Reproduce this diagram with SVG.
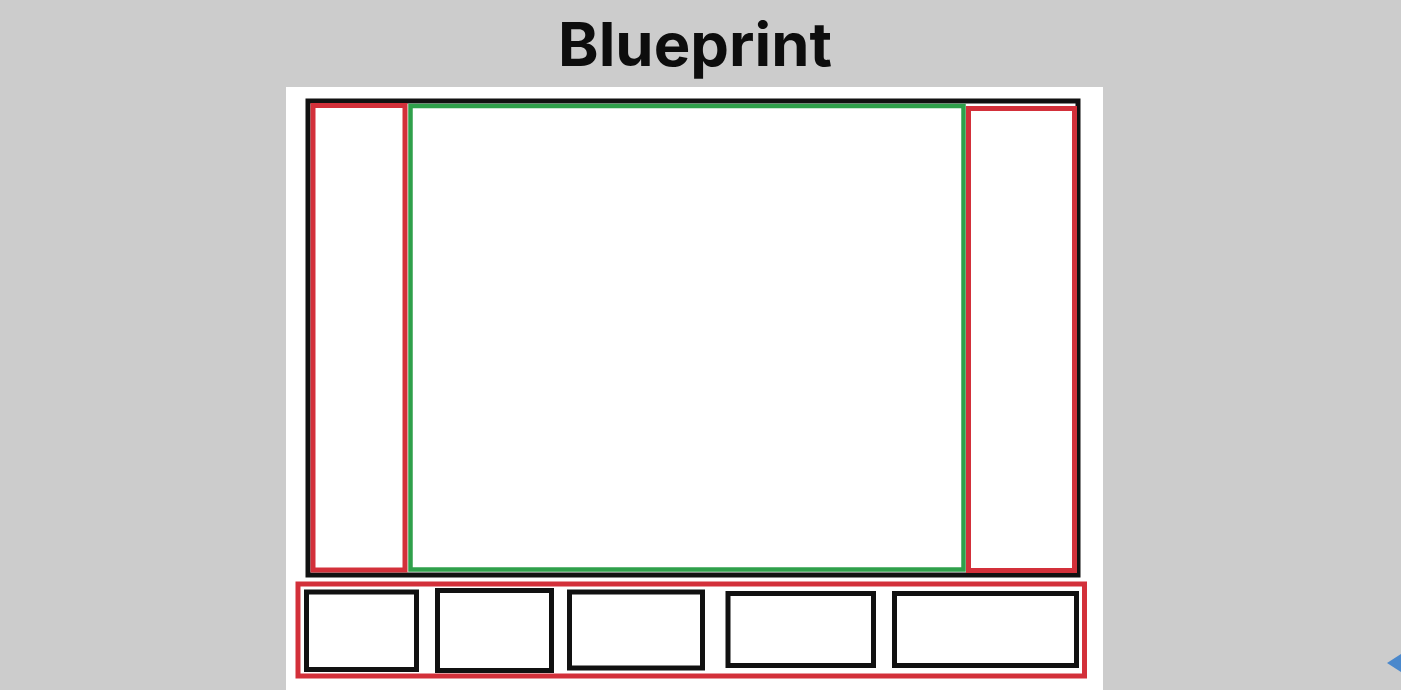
<svg xmlns="http://www.w3.org/2000/svg" width="1401" height="690" viewBox="0 0 1401 690">
<style>
.blk{fill:none;stroke:#111;stroke-width:5}
.red{fill:none;stroke:#d3303a;stroke-width:5}
.grn{fill:none;stroke:#2fa04b;stroke-width:4.5}
.title{font-family:Inter,"Noto Sans","Liberation Sans",sans-serif;font-weight:700;font-size:60px;fill:#0d0d0d}
</style>
<rect x="0" y="0" width="1401" height="690" fill="#cccccc"/>
<text class="title" x="695" y="66" text-anchor="middle" textLength="274" lengthAdjust="spacingAndGlyphs">Blueprint</text>
<rect x="286" y="87" width="817" height="603" fill="#ffffff"/>
<g id="frame"><rect class="blk" x="308" y="101" width="770" height="474" stroke-width="4.5"/></g>
<g id="left-panel"><rect class="red" x="313" y="105.5" width="92" height="464.5"/></g>
<g id="main-panel"><rect class="grn" x="410.5" y="106" width="553" height="463.5"/></g>
<g id="right-panel"><rect class="red" x="968.5" y="108.5" width="106" height="462"/></g>
<g id="bottom-bar"><rect class="red" x="298" y="584" width="786.5" height="92" stroke-width="5.5"/></g>
<g id="box1"><rect class="blk" x="306.5" y="592" width="110" height="77.5"/></g>
<g id="box2"><rect class="blk" x="437.5" y="590.5" width="114" height="80"/></g>
<g id="box3"><rect class="blk" x="569.5" y="592" width="133" height="76"/></g>
<g id="box4"><rect class="blk" x="728" y="593.5" width="145.5" height="72"/></g>
<g id="box5"><rect class="blk" x="894.5" y="593.5" width="182" height="72"/></g>
<polygon points="1387,663 1401,654 1401,672" fill="#4a88cc"/>
</svg>
